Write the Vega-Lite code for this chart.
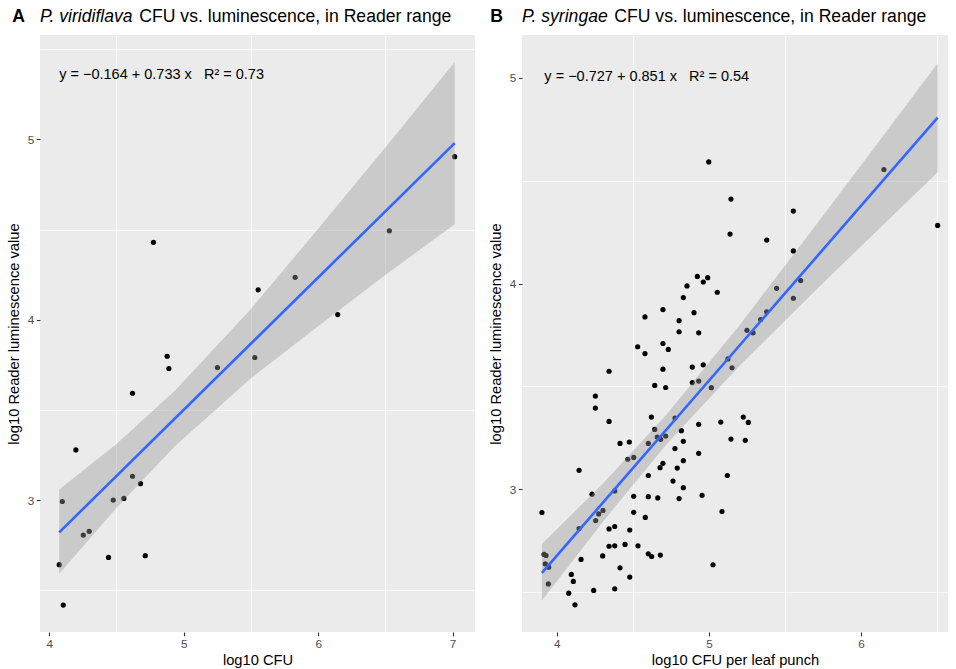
{
  "$schema": "https://vega.github.io/schema/vega-lite/v6.json",
  "background": "white",
  "padding": {"left": 6, "top": 8, "right": 5, "bottom": 3},
  "spacing": 13,
  "config": {
    "font": "Liberation Sans",
    "view": {"fill": "#EBEBEB", "stroke": null},
    "axis": {"domain": false, "tickColor": "#333333", "tickWidth": 1.1, "tickSize": 3.7, "labelColor": "#4D4D4D", "labelFontSize": 11.7, "labelFont": "Liberation Sans", "titleFont": "Liberation Sans", "titleFontSize": 14.7, "titleFontWeight": "normal", "titleColor": "#000000", "gridColor": "#FFFFFF", "gridWidth": 1.5, "labelPadding": 2.5},
    "title": {"font": "Liberation Sans", "fontSize": 17.6, "color": "#000000", "anchor": "start", "fontWeight": "normal"}
  },
  "datasets": {
    "pointsA": [
      {"x": 4.775, "y": 4.429}, {"x": 5.554, "y": 4.166}, {"x": 5.829, "y": 4.235}, {"x": 6.146, "y": 4.029}, {"x": 6.530, "y": 4.493}, {"x": 7.016, "y": 4.904}, {"x": 4.877, "y": 3.798}, {"x": 4.890, "y": 3.730}, {"x": 5.251, "y": 3.735}, {"x": 5.529, "y": 3.791}, {"x": 4.619, "y": 3.593}, {"x": 4.198, "y": 3.279}, {"x": 4.619, "y": 3.133}, {"x": 4.679, "y": 3.092}, {"x": 4.097, "y": 2.993}, {"x": 4.476, "y": 3.001}, {"x": 4.555, "y": 3.010}, {"x": 4.253, "y": 2.807}, {"x": 4.297, "y": 2.828}, {"x": 4.441, "y": 2.683}, {"x": 4.714, "y": 2.693}, {"x": 4.074, "y": 2.643}, {"x": 4.104, "y": 2.419}
    ],
    "bandA": [
      {"x": 4.074, "lo": 2.593, "hi": 3.060}, {"x": 4.5, "lo": 2.958, "hi": 3.312}, {"x": 4.936, "lo": 3.300, "hi": 3.608}, {"x": 5.5, "lo": 3.676, "hi": 4.060}, {"x": 6.0, "lo": 3.964, "hi": 4.504}, {"x": 6.5, "lo": 4.248, "hi": 4.954}, {"x": 7.016, "lo": 4.530, "hi": 5.429}
    ],
    "lineA": [{"x": 4.074, "y": 2.822}, {"x": 7.016, "y": 4.979}],
    "eqA": [{"label": "y = −0.164 + 0.733 x\u00a0\u00a0\u00a0R² = 0.73"}],
    "pointsB": [
      {"x": 4.999, "y": 4.592}, {"x": 5.145, "y": 4.411}, {"x": 5.139, "y": 4.241}, {"x": 4.924, "y": 4.035}, {"x": 4.992, "y": 4.029}, {"x": 4.963, "y": 4.008}, {"x": 4.856, "y": 3.989}, {"x": 5.055, "y": 3.958}, {"x": 4.832, "y": 3.932}, {"x": 4.698, "y": 3.874}, {"x": 4.902, "y": 3.859}, {"x": 4.580, "y": 3.838}, {"x": 4.804, "y": 3.820},
      {"x": 4.804, "y": 3.766}, {"x": 4.933, "y": 3.761}, {"x": 4.532, "y": 3.693}, {"x": 4.580, "y": 3.660}, {"x": 4.698, "y": 3.709}, {"x": 4.733, "y": 3.680}, {"x": 4.344, "y": 3.574}, {"x": 4.698, "y": 3.584}, {"x": 4.891, "y": 3.594}, {"x": 4.963, "y": 3.605}, {"x": 5.125, "y": 3.634}, {"x": 5.152, "y": 3.591}, {"x": 4.644, "y": 3.505}, {"x": 4.716, "y": 3.495}, {"x": 4.891, "y": 3.519}, {"x": 4.933, "y": 3.526}, {"x": 5.016, "y": 3.494}, {"x": 4.254, "y": 3.453}, {"x": 4.254, "y": 3.395}, {"x": 4.344, "y": 3.330}, {"x": 4.622, "y": 3.351}, {"x": 4.777, "y": 3.346}, {"x": 4.644, "y": 3.291}, {"x": 4.933, "y": 3.316}, {"x": 5.078, "y": 3.327}, {"x": 4.819, "y": 3.285}, {"x": 4.661, "y": 3.254}, {"x": 4.683, "y": 3.243}, {"x": 4.716, "y": 3.259}, {"x": 5.145, "y": 3.244}, {"x": 4.416, "y": 3.223}, {"x": 4.477, "y": 3.230}, {"x": 4.602, "y": 3.223}, {"x": 4.832, "y": 3.233}, {"x": 4.777, "y": 3.198}, {"x": 4.933, "y": 3.175}, {"x": 4.467, "y": 3.146}, {"x": 4.506, "y": 3.155}, {"x": 4.832, "y": 3.139}, {"x": 4.698, "y": 3.126}, {"x": 4.679, "y": 3.105}, {"x": 4.792, "y": 3.103}, {"x": 4.147, "y": 3.092},
      {"x": 5.380, "y": 3.863}, {"x": 5.340, "y": 3.825}, {"x": 5.250, "y": 3.773}, {"x": 5.290, "y": 3.761}, {"x": 5.226, "y": 3.351}, {"x": 5.259, "y": 3.325}, {"x": 5.239, "y": 3.238}, {"x": 5.121, "y": 3.067},
      {"x": 5.380, "y": 4.212}, {"x": 5.555, "y": 4.353}, {"x": 5.555, "y": 4.159}, {"x": 5.445, "y": 3.977}, {"x": 5.603, "y": 4.015}, {"x": 5.555, "y": 3.929}, {"x": 6.150, "y": 4.555}, {"x": 6.503, "y": 4.283},
      {"x": 4.602, "y": 3.067}, {"x": 4.764, "y": 3.040}, {"x": 4.832, "y": 3.008}, {"x": 4.381, "y": 2.992}, {"x": 4.232, "y": 2.976}, {"x": 4.506, "y": 2.966}, {"x": 4.602, "y": 2.964}, {"x": 4.664, "y": 2.958}, {"x": 4.804, "y": 2.955}, {"x": 4.955, "y": 2.971}, {"x": 3.903, "y": 2.887}, {"x": 4.304, "y": 2.897}, {"x": 4.276, "y": 2.880}, {"x": 4.506, "y": 2.888}, {"x": 5.086, "y": 2.892}, {"x": 4.256, "y": 2.848}, {"x": 4.582, "y": 2.863}, {"x": 4.147, "y": 2.809}, {"x": 4.344, "y": 2.807}, {"x": 4.381, "y": 2.819}, {"x": 4.480, "y": 2.802}, {"x": 4.344, "y": 2.723}, {"x": 4.381, "y": 2.725}, {"x": 4.449, "y": 2.732}, {"x": 4.534, "y": 2.725}, {"x": 3.917, "y": 2.683}, {"x": 3.930, "y": 2.678}, {"x": 4.602, "y": 2.686}, {"x": 4.624, "y": 2.673}, {"x": 4.681, "y": 2.680}, {"x": 4.302, "y": 2.676}, {"x": 3.925, "y": 2.637}, {"x": 3.947, "y": 2.621}, {"x": 4.160, "y": 2.659}, {"x": 4.416, "y": 2.618}, {"x": 5.027, "y": 2.633}, {"x": 4.096, "y": 2.586}, {"x": 4.109, "y": 2.552}, {"x": 4.480, "y": 2.573}, {"x": 3.945, "y": 2.540}, {"x": 4.243, "y": 2.508}, {"x": 4.381, "y": 2.516}, {"x": 4.079, "y": 2.495}, {"x": 4.120, "y": 2.438}
    ],
    "bandB": [
      {"x": 3.903, "lo": 2.459, "hi": 2.734}, {"x": 4.3, "lo": 2.839, "hi": 3.025}, {"x": 4.72, "lo": 3.218, "hi": 3.362}, {"x": 5.2, "lo": 3.599, "hi": 3.797}, {"x": 5.7, "lo": 3.967, "hi": 4.281}, {"x": 6.1, "lo": 4.254, "hi": 4.674}, {"x": 6.503, "lo": 4.542, "hi": 5.072}
    ],
    "lineB": [{"x": 3.903, "y": 2.594}, {"x": 6.503, "y": 4.807}],
    "eqB": [{"label": "y = −0.727 + 0.851 x\u00a0\u00a0\u00a0R² = 0.54"}]
  },
  "hconcat": [
    {
      "title": {"text": "A", "fontWeight": "bold", "anchor": "start", "frame": "bounds", "dx": 6, "dy": 17.6, "offset": 0},
      "vconcat": [
        {
          "title": {"text": "CFU vs. luminescence, in Reader range", "anchor": "start", "frame": "bounds", "dx": 133, "dy": 17.6, "offset": 0},
          "vconcat": [
            {
              "title": {"text": "P. viridiflava", "fontStyle": "italic", "anchor": "start", "frame": "group", "offset": 9},
              "width": 435,
              "height": 597,
              "resolve": {"axis": {"x": "independent", "y": "independent"}},
              "layer": [
                {
                  "data": {"name": "pointsA"},
                  "mark": {"type": "circle", "size": 27, "color": "#000000", "opacity": 1},
                  "encoding": {
                    "x": {"field": "x", "type": "quantitative", "scale": {"domain": [3.931, 7.167], "nice": false, "zero": false}, "axis": {"orient": "top", "values": [4.5, 5.5, 6.5], "grid": true, "gridWidth": 0.7, "labels": false, "ticks": false, "domain": false, "title": null}},
                    "y": {"field": "y", "type": "quantitative", "scale": {"domain": [2.27, 5.578], "nice": false, "zero": false}, "axis": {"orient": "right", "values": [2.5, 3.5, 4.5, 5.5], "grid": true, "gridWidth": 0.7, "labels": false, "ticks": false, "domain": false, "title": null}}
                  }
                },
                {
                  "data": {"name": "bandA"},
                  "mark": {"type": "area", "color": "#999999", "opacity": 0.4},
                  "encoding": {
                    "x": {"field": "x", "type": "quantitative", "scale": {"domain": [3.931, 7.167], "nice": false, "zero": false}, "axis": {"values": [4, 5, 6, 7], "title": "log10 CFU", "titlePadding": 3}},
                    "y": {"field": "lo", "type": "quantitative", "scale": {"domain": [2.27, 5.578], "nice": false, "zero": false}, "axis": {"values": [3, 4, 5], "title": "log10 Reader luminescence value", "titlePadding": 6}},
                    "y2": {"field": "hi"}
                  }
                },
                {
                  "data": {"name": "lineA"},
                  "mark": {"type": "line", "color": "#3366FF", "strokeWidth": 2.6},
                  "encoding": {
                    "x": {"field": "x", "type": "quantitative", "scale": {"domain": [3.931, 7.167], "nice": false, "zero": false}, "axis": null},
                    "y": {"field": "y", "type": "quantitative", "scale": {"domain": [2.27, 5.578], "nice": false, "zero": false}, "axis": null}
                  }
                },
                {
                  "data": {"name": "eqA"},
                  "mark": {"type": "text", "align": "left", "baseline": "middle", "fontSize": 14.5, "font": "Liberation Sans", "color": "#000000"},
                  "encoding": {
                    "x": {"datum": 4.074, "type": "quantitative", "scale": {"domain": [3.931, 7.167], "nice": false, "zero": false}, "axis": null},
                    "y": {"datum": 5.357, "type": "quantitative", "scale": {"domain": [2.27, 5.578], "nice": false, "zero": false}, "axis": null},
                    "text": {"field": "label"}
                  }
                }
              ]
            }
          ]
        }
      ]
    },
    {
      "title": {"text": "B", "fontWeight": "bold", "anchor": "start", "frame": "bounds", "dx": 2, "dy": 17.6, "offset": 0},
      "vconcat": [
        {
          "title": {"text": "CFU vs. luminescence, in Reader range", "anchor": "start", "frame": "bounds", "dx": 126, "dy": 17.6, "offset": 0},
          "vconcat": [
            {
              "title": {"text": "P. syringae", "fontStyle": "italic", "anchor": "start", "frame": "group", "offset": 9},
              "width": 426,
              "height": 597,
              "resolve": {"axis": {"x": "independent", "y": "independent"}},
              "layer": [
                {
                  "data": {"name": "pointsB"},
                  "mark": {"type": "circle", "size": 27, "color": "#000000", "opacity": 1},
                  "encoding": {
                    "x": {"field": "x", "type": "quantitative", "scale": {"domain": [3.772, 6.571], "nice": false, "zero": false}, "axis": {"orient": "top", "values": [4.5, 5.5, 6.5], "grid": true, "gridWidth": 0.7, "labels": false, "ticks": false, "domain": false, "title": null}},
                    "y": {"field": "y", "type": "quantitative", "scale": {"domain": [2.306, 5.209], "nice": false, "zero": false}, "axis": {"orient": "right", "values": [2.5, 3.5, 4.5], "grid": true, "gridWidth": 0.7, "labels": false, "ticks": false, "domain": false, "title": null}}
                  }
                },
                {
                  "data": {"name": "bandB"},
                  "mark": {"type": "area", "color": "#999999", "opacity": 0.4},
                  "encoding": {
                    "x": {"field": "x", "type": "quantitative", "scale": {"domain": [3.772, 6.571], "nice": false, "zero": false}, "axis": {"values": [4, 5, 6], "title": "log10 CFU per leaf punch", "titlePadding": 3}},
                    "y": {"field": "lo", "type": "quantitative", "scale": {"domain": [2.306, 5.209], "nice": false, "zero": false}, "axis": {"values": [3, 4, 5], "title": "log10 Reader luminescence value", "titlePadding": 6}},
                    "y2": {"field": "hi"}
                  }
                },
                {
                  "data": {"name": "lineB"},
                  "mark": {"type": "line", "color": "#3366FF", "strokeWidth": 2.6},
                  "encoding": {
                    "x": {"field": "x", "type": "quantitative", "scale": {"domain": [3.772, 6.571], "nice": false, "zero": false}, "axis": null},
                    "y": {"field": "y", "type": "quantitative", "scale": {"domain": [2.306, 5.209], "nice": false, "zero": false}, "axis": null}
                  }
                },
                {
                  "data": {"name": "eqB"},
                  "mark": {"type": "text", "align": "left", "baseline": "middle", "fontSize": 14.5, "font": "Liberation Sans", "color": "#000000"},
                  "encoding": {
                    "x": {"datum": 3.919, "type": "quantitative", "scale": {"domain": [3.772, 6.571], "nice": false, "zero": false}, "axis": null},
                    "y": {"datum": 5.005, "type": "quantitative", "scale": {"domain": [2.306, 5.209], "nice": false, "zero": false}, "axis": null},
                    "text": {"field": "label"}
                  }
                }
              ]
            }
          ]
        }
      ]
    }
  ]
}
